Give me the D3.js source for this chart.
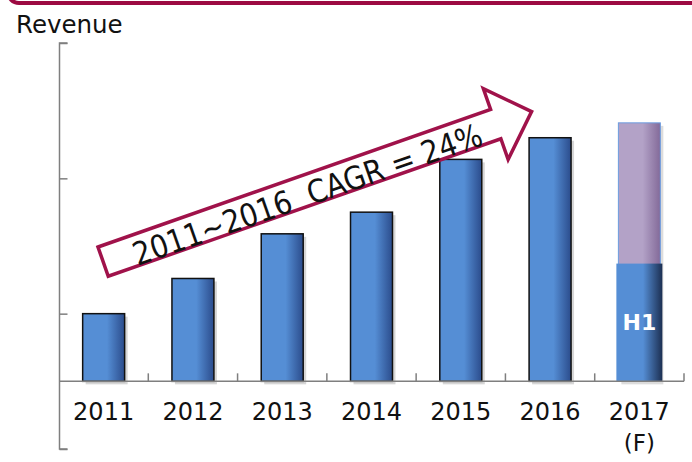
<!DOCTYPE html>
<html>
<head>
<meta charset="utf-8">
<script src="https://cdn.jsdelivr.net/npm/d3@7"></script>
<style>
  body { margin: 0; background: #fff; }
  svg { display: block; font-family: "DejaVu Sans", sans-serif; }
</style>
</head>
<body>
<div id="chart"></div>
<script>
// data (units are arbitrary, the chart has no tick values)
const years = ["2011", "2012", "2013", "2014", "2015", "2016", "2017"];
const revenue = [50, 76, 109, 125, 164, 180];   // 2011..2016 actual
const h1Value = 87;                               // 2017 first half
const forecastValue = 191;                        // 2017 full year forecast
const yTicks = [-50, 50, 150, 250];
const cagrLabel = "2011~2016  CAGR = 24%";

const width = 692, height = 462;
const maroon = "#a0124a";

const svg = d3.select("#chart")
    .append("svg")
    .attr("width", width)
    .attr("height", height);

const defs = svg.append("defs");

function addGradient(id, base, dark) {
    const g = defs.append("linearGradient").attr("id", id)
        .attr("x1", "0%").attr("x2", "100%").attr("y1", "0%").attr("y2", "0%");
    g.append("stop").attr("offset", "0%").attr("stop-color", base);
    g.append("stop").attr("offset", "58%").attr("stop-color", base);
    g.append("stop").attr("offset", "100%").attr("stop-color", dark);
}
addGradient("blueGrad", "#558ed5", "#2b4c8c");
addGradient("h1Grad", "#558ed5", "#1c2f52");
addGradient("purpleGrad", "#b3a2c7", "#836a99");

// top frame (bottom edge of a rounded box)
svg.append("rect")
    .attr("x", 8).attr("y", -40)
    .attr("width", 700).attr("height", 43)
    .attr("rx", 11)
    .attr("fill", "none")
    .attr("stroke", "#9c0a42")
    .attr("stroke-width", 4);

svg.append("text")
    .attr("x", 16).attr("y", 33)
    .attr("font-size", 24.5)
    .attr("fill", "#111")
    .text("Revenue");

// scales
const x = d3.scaleBand()
    .domain(years)
    .range([59, 684])
    .paddingInner(0.53)
    .paddingOuter(0.265);

const y = d3.scaleLinear()
    .domain([-50, 250])
    .range([449, 43]);

const axisColor = "#7f7f7f";

// y axis: line plus ticks pointing right
const yAxis = svg.append("g")
    .attr("transform", "translate(59.5,0)")
    .call(d3.axisRight(y).tickValues(yTicks).tickSize(8).tickFormat(""));
yAxis.select(".domain").attr("stroke", axisColor).attr("stroke-width", 1.5)
    .attr("d", `M8,${y(250)}H0V${y(-50)}H8`);
yAxis.selectAll(".tick line").attr("stroke", axisColor).attr("stroke-width", 1.5);

// bars 2011..2016
const bars = svg.append("g");
const actual = years.slice(0, 6).map((d, i) => ({ year: d, value: revenue[i] }));

bars.selectAll("rect.shadow")
    .data(actual)
    .enter().append("rect")
    .attr("class", "shadow")
    .attr("x", d => x(d.year) + 3)
    .attr("y", d => y(d.value) + 3)
    .attr("width", x.bandwidth())
    .attr("height", d => y(0) - y(d.value))
    .attr("fill", "#d6d6d6");

bars.selectAll("rect.bar")
    .data(actual)
    .enter().append("rect")
    .attr("class", "bar")
    .attr("x", d => x(d.year))
    .attr("y", d => y(d.value))
    .attr("width", x.bandwidth())
    .attr("height", d => y(0) - y(d.value))
    .attr("fill", "url(#blueGrad)")
    .attr("stroke", "#111")
    .attr("stroke-width", 1.5);

// 2017: forecast (purple) with H1 part (blue)
const fx = x("2017");
svg.append("rect")
    .attr("x", fx + 3).attr("y", y(forecastValue) + 3)
    .attr("width", x.bandwidth()).attr("height", y(0) - y(forecastValue))
    .attr("fill", "#dcdcdc");
svg.append("rect")
    .attr("x", fx).attr("y", y(forecastValue))
    .attr("width", x.bandwidth()).attr("height", y(0) - y(forecastValue))
    .attr("fill", "url(#purpleGrad)")
    .attr("stroke", "#6c9ce0")
    .attr("stroke-width", 1);
svg.append("rect")
    .attr("x", fx - 2).attr("y", y(h1Value))
    .attr("width", x.bandwidth() + 4).attr("height", y(0) - y(h1Value))
    .attr("fill", "url(#h1Grad)");
svg.append("text")
    .attr("x", fx + x.bandwidth() / 2)
    .attr("y", (y(h1Value) + y(0)) / 2 + 8)
    .attr("text-anchor", "middle")
    .attr("font-size", 22)
    .attr("font-weight", "bold")
    .attr("fill", "#fff")
    .text("H1");

// x axis: baseline with small upward ticks between categories
const xAxis = svg.append("g").attr("transform", `translate(0,${y(0)})`);
xAxis.append("line")
    .attr("x1", 59).attr("x2", 684)
    .attr("stroke", axisColor).attr("stroke-width", 1.5);
xAxis.selectAll("line.tick")
    .data(years)
    .enter().append("line")
    .attr("class", "tick")
    .attr("x1", d => x(d) + x.bandwidth() + x.step() * x.paddingInner() / 2)
    .attr("x2", d => x(d) + x.bandwidth() + x.step() * x.paddingInner() / 2)
    .attr("y1", 0).attr("y2", -8)
    .attr("stroke", axisColor).attr("stroke-width", 1.5);

svg.append("g").selectAll("text")
    .data(years)
    .enter().append("text")
    .attr("x", d => x(d) + x.bandwidth() / 2)
    .attr("y", 420)
    .attr("text-anchor", "middle")
    .attr("font-size", 24)
    .attr("fill", "#111")
    .text(d => d);

svg.append("text")
    .attr("x", x("2017") + x.bandwidth() / 2)
    .attr("y", 451)
    .attr("text-anchor", "middle")
    .attr("font-size", 23)
    .attr("fill", "#111")
    .text("(F)");

// CAGR arrow
const arrow = svg.append("g")
    .attr("transform", "translate(98,247) rotate(-19.3)");
const shaftLen = 416, shaftW = 31, barb = 22, headLen = 38;
arrow.append("path")
    .attr("d", `M0,0 H${shaftLen} V${-barb} L${shaftLen + headLen},${shaftW / 2} L${shaftLen},${shaftW + barb} V${shaftW} H0 Z`)
    .attr("fill", "#fff")
    .attr("stroke", maroon)
    .attr("stroke-width", 3.5)
    .attr("stroke-linejoin", "miter");
arrow.append("text")
    .attr("x", 31).attr("y", 31)
    .attr("font-size", 32)
    .attr("textLength", 368)
    .attr("lengthAdjust", "spacingAndGlyphs")
    .attr("fill", "#111")
    .style("white-space", "pre")
    .text(cagrLabel);
</script>
</body>
</html>
